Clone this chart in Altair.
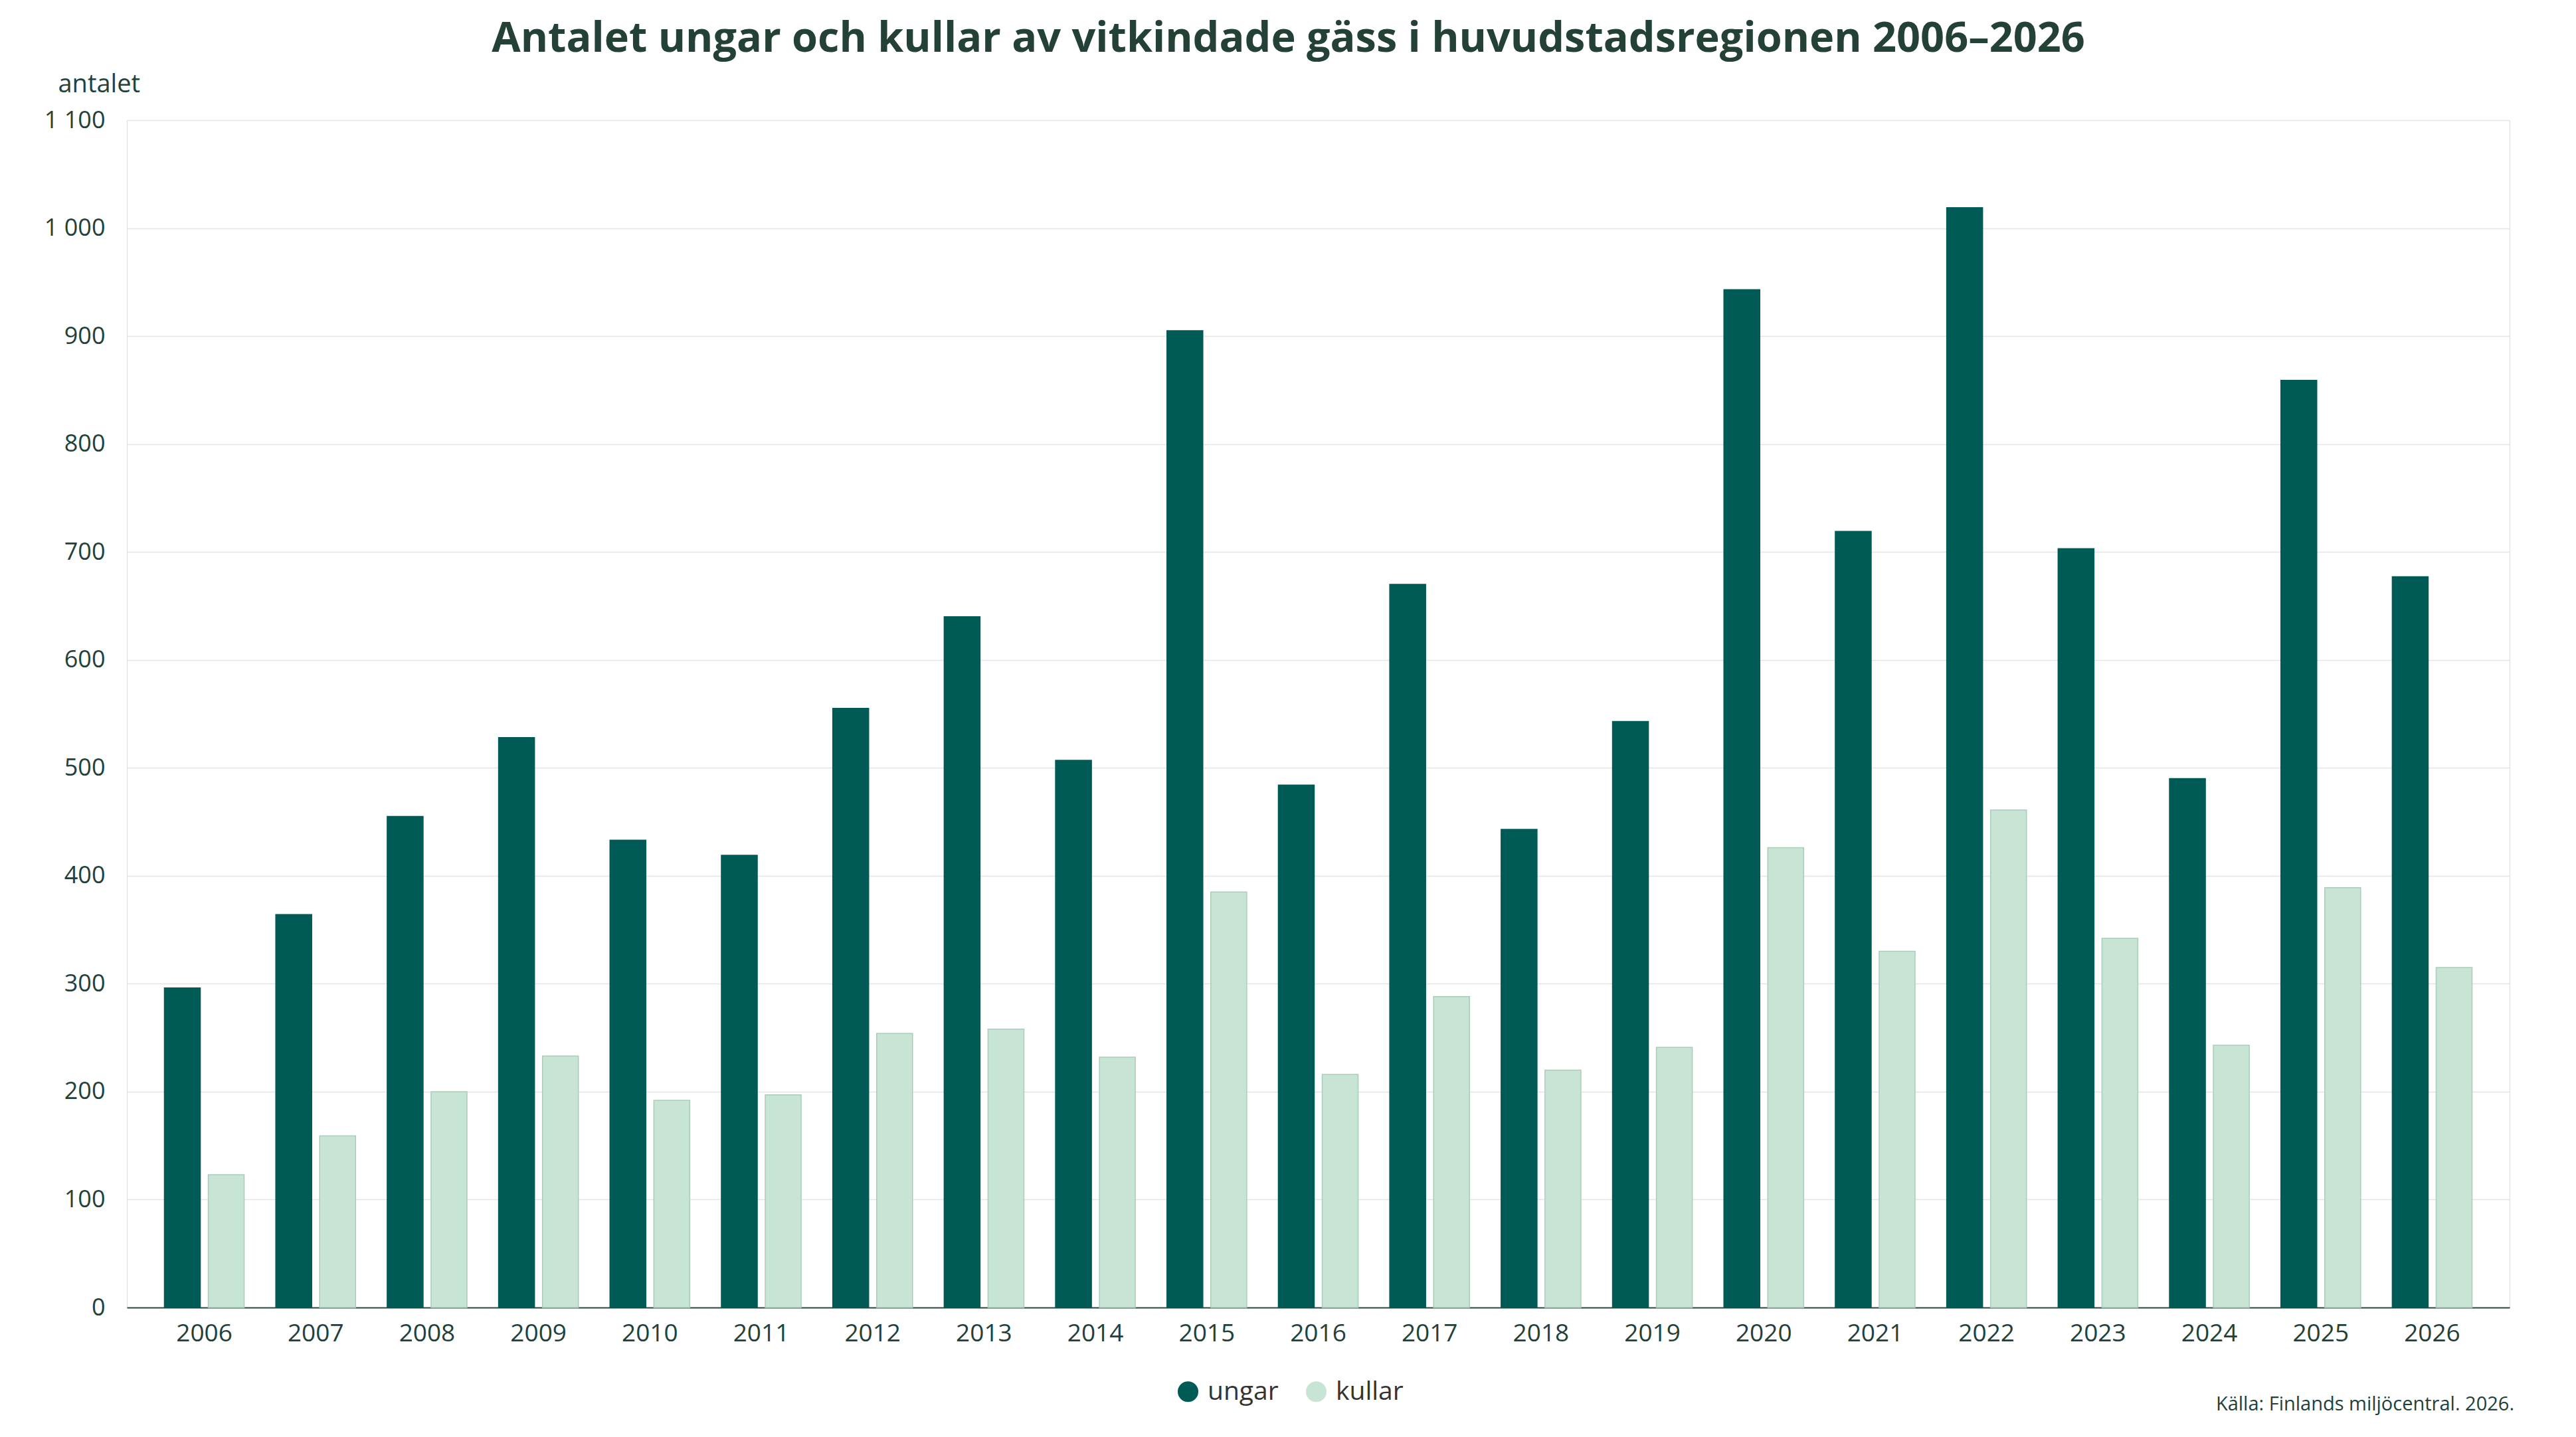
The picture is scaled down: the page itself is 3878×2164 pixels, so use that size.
import altair as alt
import pandas as pd

# ---- data ----
years = [str(y) for y in range(2006, 2027)]
ungar = [296, 364, 455, 528, 433, 419, 555, 640, 507, 905, 484, 670, 443, 543, 943, 719, 1019, 703, 490, 859, 677]
kullar = [123, 159, 200, 233, 192, 197, 254, 258, 232, 385, 216, 288, 220, 241, 426, 330, 461, 342, 243, 389, 315]
series = ["ungar", "kullar"]
fill_colors = ["#005a55", "#c7e4d4"]
stroke_colors = ["#005a55", "#aacdb9"]
y_ticks = list(range(0, 1101, 100))
title_text = "Antalet ungar och kullar av vitkindade gäss i huvudstadsregionen 2006–2026"
y_title = "antalet"
source_text = "Källa: Finlands miljöcentral. 2026."

rows = []
for i, yr in enumerate(years):
    rows.append({"år": yr, "serie": series[0], "antal": ungar[i]})
    rows.append({"år": yr, "serie": series[1], "antal": kullar[i]})
df = pd.DataFrame(rows)

FONT = "Open Sans"
TXT = "#22413a"

bars = alt.Chart(df).mark_bar(strokeWidth=1.5).encode(
    x=alt.X(
        "år:N", sort=years,
        scale=alt.Scale(paddingInner=0.284, paddingOuter=0.337),
        axis=alt.Axis(title=None, labelAngle=0, labelFontSize=37, labelFont=FONT,
                      labelColor=TXT, labelPadding=21, ticks=False, tickSize=0,
                      domainColor="#2d4a40", domainWidth=2, grid=False),
    ),
    xOffset=alt.XOffset("serie:N", sort=series,
                        scale=alt.Scale(paddingInner=0.182, paddingOuter=0)),
    y=alt.Y(
        "antal:Q",
        scale=alt.Scale(domain=[0, 1100], nice=False),
        axis=alt.Axis(values=y_ticks, title=y_title, titleAngle=0, titleX=-104, titleY=-43,
                      titleAlign="left", titleBaseline="alphabetic", titleFontSize=38,
                      titleFont=FONT, titleFontWeight="normal", titleColor=TXT,
                      labelExpr="replace(format(datum.value, ','), ',', ' ')",
                      labelFontSize=36, labelFont=FONT, labelColor=TXT, labelPadding=33,
                      ticks=False, tickSize=0, domain=False,
                      gridColor="#e4e4e4", gridWidth=1.5),
    ),
    color=alt.Color(
        "serie:N", sort=series,
        scale=alt.Scale(domain=series, range=fill_colors),
        legend=alt.Legend(title=None, orient="none", legendX=1578, legendY=1895,
                          direction="horizontal", symbolType="circle", symbolSize=960,
                          symbolStrokeWidth=0, labelFontSize=39, labelFont=FONT,
                          labelColor="#333333", labelOffset=10, columnPadding=37),
    ),
    stroke=alt.Stroke("serie:N", sort=series,
                      scale=alt.Scale(domain=series, range=stroke_colors), legend=None),
)

source = alt.Chart(pd.DataFrame({"t": [source_text]})).mark_text(
    align="right", baseline="alphabetic", fontSize=29, font=FONT, color=TXT
).encode(text="t:N", x=alt.value(3594), y=alt.value(1943))

chart = alt.layer(bars, source).properties(
    width=3587,
    height=1788,
    title=alt.TitleParams(title_text, fontSize=63, fontWeight="bold", color="#234135",
                          font=FONT, anchor="middle", dx=-45, offset=17),
    padding={"left": 183, "top": 173, "right": 80, "bottom": 180},
    autosize=alt.AutoSizeParams(type="none"),
).configure_view(stroke=None).configure(background="white")

chart.save("out.html", embed_options={"renderer": "svg", "actions": False})
